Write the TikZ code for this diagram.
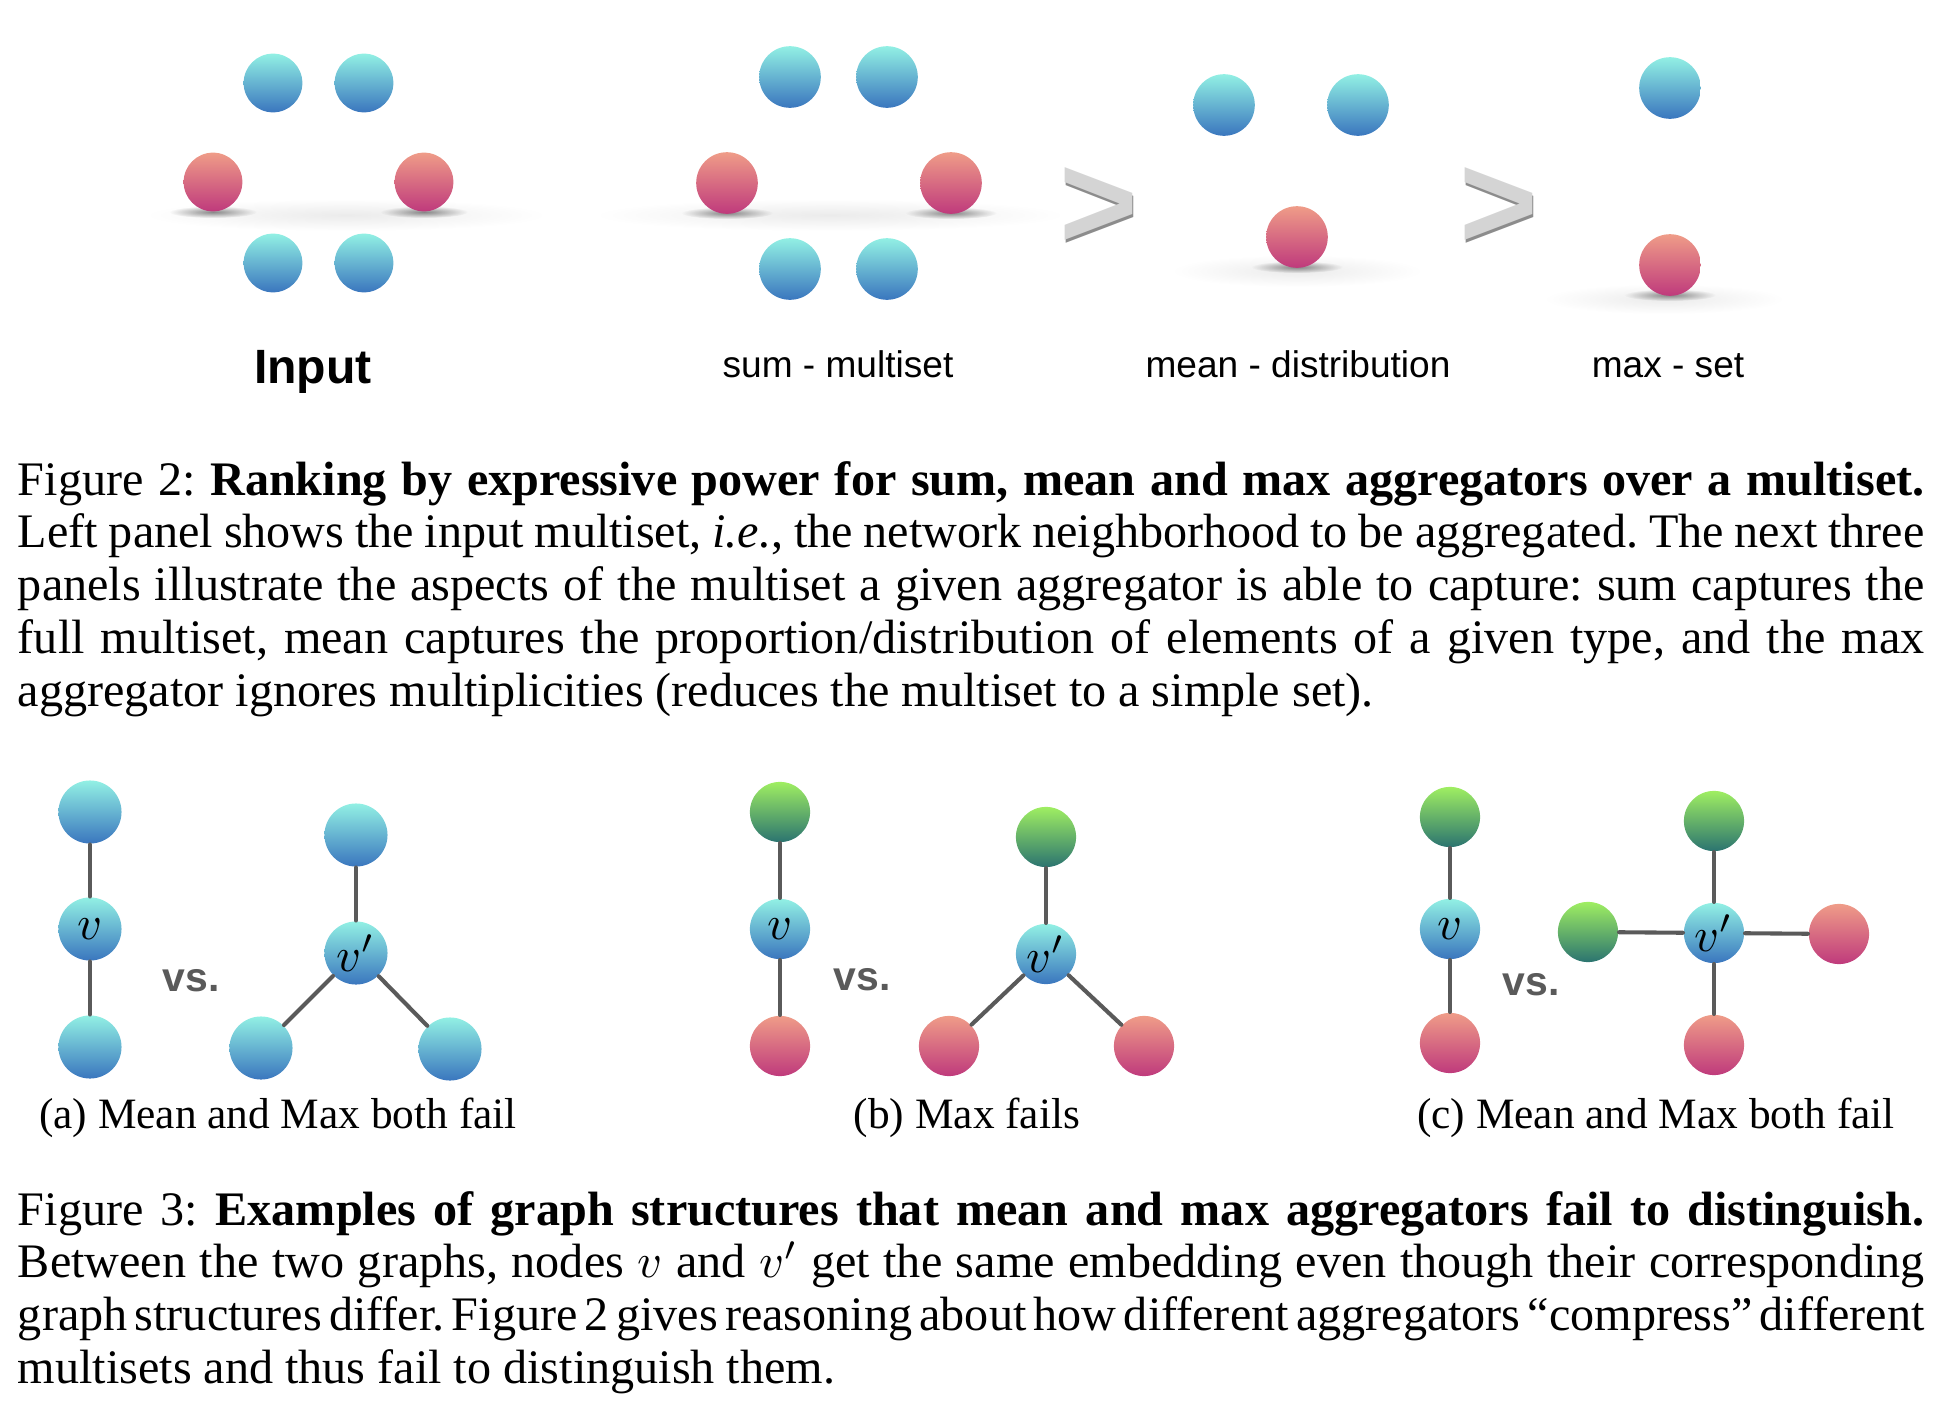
\documentclass[tikz,border=0pt]{standalone}
\usepackage{fontspec}
\setmainfont{Liberation Serif}
\setsansfont{Liberation Sans}
\usepackage{tikz}
\usetikzlibrary{fadings}
\definecolor{BallBlueTop}{HTML}{92F0E4}
\definecolor{BallBlueBot}{HTML}{3A76BE}
\definecolor{BallPinkTop}{HTML}{EF9C88}
\definecolor{BallPinkBot}{HTML}{BF3A7C}
\definecolor{BallGreenTop}{HTML}{9FEE62}
\definecolor{BallGreenBot}{HTML}{2B7470}
\definecolor{EdgeGray}{HTML}{5A5A5A}
\definecolor{ChevGray}{HTML}{D4D4D4}
\definecolor{ChevShade}{HTML}{8C8C8C}
\tikzfading[name=softedge,inner color=transparent!0,outer color=transparent!100]
\newcommand{\tightpar}{\frenchspacing\hyphenpenalty=10000
  \spaceskip=.25em plus .15em minus .12em\relax}

\begin{document}
\begin{tikzpicture}[x=0.2077pt,y=-0.2077pt,line cap=round,line join=round,
  ball/.style={circle,inner sep=0pt,minimum size=12.8pt},
  blueball/.style={ball,top color=BallBlueTop,bottom color=BallBlueBot},
  pinkball/.style={ball,top color=BallPinkTop,bottom color=BallPinkBot},
  greenball/.style={ball,top color=BallGreenTop,bottom color=BallGreenBot},
  gnode/.style={minimum size=12.5pt,font=\fontsize{10}{12}\selectfont},
  edge/.style={draw=EdgeGray,line width=0.85pt},
  softshadow/.style={fill=black,path fading=softedge},
  setlabel/.style={font=\sffamily\fontsize{7.7}{9}\selectfont,anchor=base},
  vslabel/.style={font=\sffamily\bfseries\fontsize{8.5}{10}\selectfont,
    text=EdgeGray,anchor=base},
  chev/.style={font=\sffamily\bfseries\fontsize{28}{30}\selectfont,
    anchor=base,inner sep=0pt},
  subcap/.style={font=\fontsize{9}{10}\selectfont,anchor=base},
  captext/.style={font=\fontsize{10}{11}\selectfont,text width=396pt,
    align=justify,inner sep=0pt,anchor=base west}]
  \useasboundingbox (0,0) rectangle (1934,1412);

  % Ground shadows under the pink balls.
  \fill[softshadow,opacity=0.08] (346,215) ellipse (200 and 16);
  \fill[softshadow,opacity=0.45] (213,212) ellipse (44 and 6);
  \fill[softshadow,opacity=0.45] (424,212) ellipse (44 and 6);
  \fill[softshadow,opacity=0.08] (830,215) ellipse (235 and 16);
  \fill[softshadow,opacity=0.45] (727,213) ellipse (46 and 6);
  \fill[softshadow,opacity=0.45] (951,213) ellipse (46 and 6);
  \fill[softshadow,opacity=0.08] (1297,271) ellipse (125 and 16);
  \fill[softshadow,opacity=0.45] (1297,267) ellipse (46 and 6);
  \fill[softshadow,opacity=0.08] (1664,299) ellipse (120 and 15);
  \fill[softshadow,opacity=0.45] (1670,295) ellipse (46 and 6);

  % Input multiset.
  \node[blueball,minimum size=12.2pt] (in1) at (273,83) {};
  \node[blueball,minimum size=12.2pt] (in2) at (364,83) {};
  \node[pinkball,minimum size=12.2pt] (in3) at (213,182) {};
  \node[pinkball,minimum size=12.2pt] (in4) at (424,182) {};
  \node[blueball,minimum size=12.2pt] (in5) at (273,263) {};
  \node[blueball,minimum size=12.2pt] (in6) at (364,263) {};
  \node[font=\sffamily\bfseries\fontsize{10}{12}\selectfont,anchor=base]
    (inlab) at (313,383) {Input};

  % sum
  \node[blueball] (sm1) at (790,77) {};
  \node[blueball] (sm2) at (887,77) {};
  \node[pinkball] (sm3) at (727,183) {};
  \node[pinkball] (sm4) at (951,183) {};
  \node[blueball] (sm5) at (790,269) {};
  \node[blueball] (sm6) at (887,269) {};
  \node[setlabel] (smlab) at (838,378) {sum - multiset};

  % mean
  \node[blueball] (mn1) at (1224,105) {};
  \node[blueball] (mn2) at (1358,105) {};
  \node[pinkball] (mn3) at (1297,237) {};
  \node[setlabel] (mnlab) at (1298,378) {mean - distribution};

  % max
  \node[blueball] (mx1) at (1670,88) {};
  \node[pinkball] (mx2) at (1670,265) {};
  \node[setlabel] (mxlab) at (1668,378) {max - set};

  % ranking signs
  \node[chev,text=ChevShade] (gtAs) at (1100,252) {>};
  \node[chev,text=ChevGray] (gtA) at (1099,249) {>};
  \node[chev,text=ChevShade] (gtBs) at (1500,252) {>};
  \node[chev,text=ChevGray] (gtB) at (1499,249) {>};

  \node[captext] (capA) at (17,495)
    {\tightpar Figure 2: \textbf{Ranking by expressive power for sum, mean and max
     aggregators over a multiset.}\linebreak
     Left panel shows the input multiset, \textit{i.e.}, the network
     neighborhood to be aggregated. The next three\linebreak
     panels illustrate the aspects of the multiset a given aggregator is
     able to capture: sum captures the\linebreak
     full multiset, mean captures the proportion/distribution of elements
     of a given type, and the max\linebreak
     aggregator ignores multiplicities (reduces the multiset to a simple
     set).};

  % (a)
  \node[blueball,gnode,minimum size=13.1pt] (aT) at (90,812) {};
  \node[blueball,gnode,minimum size=13.1pt] (aV) at (90,929) {$v$};
  \node[blueball,gnode,minimum size=13.1pt] (aB) at (90,1047) {};
  \node[blueball,gnode,minimum size=13.1pt] (apT) at (356,835) {};
  \node[blueball,gnode,minimum size=13.1pt] (apV) at (356,953) {$v'$};
  \node[blueball,gnode,minimum size=13.1pt] (apL) at (261,1048) {};
  \node[blueball,gnode,minimum size=13.1pt] (apR) at (450,1049) {};
  \draw[edge] (aT) -- (aV) -- (aB);
  \draw[edge] (apT) -- (apV);
  \draw[edge] (apV) -- (apL);
  \draw[edge] (apV) -- (apR);
  \node[vslabel] (avs) at (191,991) {vs.};
  \node[subcap] (acap) at (278,1128) {(a) Mean and Max both fail};

  % (b)
  \node[greenball,gnode] (bT) at (780,812) {};
  \node[blueball,gnode] (bV) at (780,929) {$v$};
  \node[pinkball,gnode] (bB) at (780,1046) {};
  \node[greenball,gnode] (bpT) at (1046,837) {};
  \node[blueball,gnode] (bpV) at (1046,954) {$v'$};
  \node[pinkball,gnode] (bpL) at (949,1046) {};
  \node[pinkball,gnode] (bpR) at (1144,1046) {};
  \draw[edge] (bT) -- (bV) -- (bB);
  \draw[edge] (bpT) -- (bpV);
  \draw[edge] (bpV) -- (bpL);
  \draw[edge] (bpV) -- (bpR);
  \node[vslabel] (bvs) at (862,990) {vs.};
  \node[subcap] (bcap) at (967,1128) {(b) Max fails};

  % (c)
  \node[greenball,gnode] (cT) at (1450,817) {};
  \node[blueball,gnode] (cV) at (1450,929) {$v$};
  \node[pinkball,gnode] (cB) at (1450,1043) {};
  \node[greenball,gnode] (cpT) at (1714,821) {};
  \node[greenball,gnode] (cpL) at (1588,932) {};
  \node[blueball,gnode] (cpV) at (1714,933) {$v'$};
  \node[pinkball,gnode] (cpR) at (1839,934) {};
  \node[pinkball,gnode] (cpB) at (1714,1045) {};
  \draw[edge] (cT) -- (cV) -- (cB);
  \draw[edge] (cpT) -- (cpV) -- (cpB);
  \draw[edge] (cpL) -- (cpV) -- (cpR);
  \node[vslabel] (cvs) at (1531,995) {vs.};
  \node[subcap] (ccap) at (1656,1128) {(c) Mean and Max both fail};

  \node[captext] (capB) at (17,1225)
    {\tightpar Figure 3: \textbf{Examples of graph structures that mean and max
     aggregators fail to distinguish.}\linebreak
     Between the two graphs, nodes $v$ and $v'$ get the same embedding
     even though their corresponding\linebreak
     graph structures differ. Figure 2 gives reasoning about how different
     aggregators ``compress'' different\linebreak
     multisets and thus fail to distinguish them.};
\end{tikzpicture}
\end{document}
